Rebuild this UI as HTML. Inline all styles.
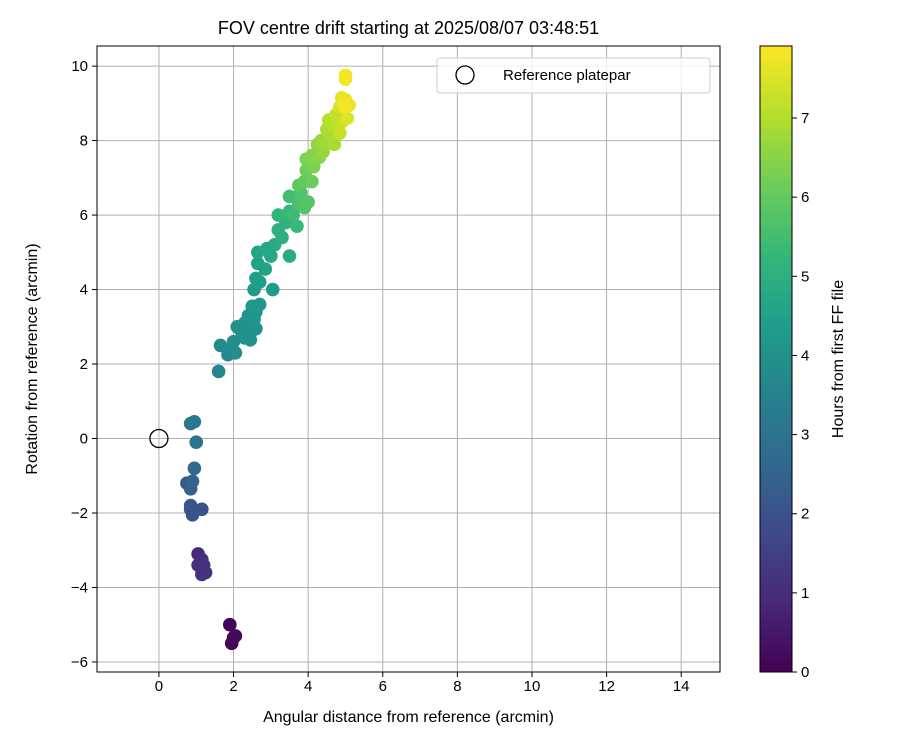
<!DOCTYPE html>
<html><head><meta charset="utf-8"><style>
body{margin:0;background:#fff;font-family:"Liberation Sans",sans-serif}
</style></head><body>
<svg id="c" width="900" height="750" xmlns="http://www.w3.org/2000/svg" font-family="Liberation Sans, sans-serif">
<defs><linearGradient id="vg" x1="0" y1="1" x2="0" y2="0"></linearGradient></defs>
<g id="grid"></g>
<g id="pts"></g>
<g id="axes"></g>
</svg>
<script>
const xTicks=[0,2,4,6,8,10,12,14];
const yTicks=[-6,-4,-2,0,2,4,6,8,10];
const cTicks=[0,1,2,3,4,5,6,7];
const ptX=[1.9,2.0,1.95,2.05,1.05,1.15,1.05,1.2,1.15,1.25,0.75,0.85,0.9,0.95,0.85,0.9,0.85,1.15,0.95,1.0,0.85,0.95,1.6,1.65,1.85,1.9,2.05,2.0,2.1,2.3,2.45,2.5,2.6,2.3,2.4,2.6,2.7,2.5,2.2,2.55,3.05,2.55,2.6,2.7,2.65,2.85,2.65,2.9,3.0,3.1,3.5,3.2,3.3,3.4,3.2,3.5,3.7,3.6,3.5,3.75,3.8,3.9,4.0,3.75,3.9,4.1,3.95,3.95,4.15,4.1,4.3,4.25,4.4,4.35,4.5,4.5,4.6,4.7,4.55,4.7,4.75,4.85,4.9,4.85,4.9,5.0,5.1,5.05,4.95,5.0,5.0,5.0];
const ptY=[-5.0,-5.35,-5.5,-5.3,-3.1,-3.25,-3.4,-3.4,-3.65,-3.6,-1.2,-1.35,-1.15,-0.8,-1.9,-2.05,-1.8,-1.9,-1.95,-0.1,0.4,0.45,1.8,2.5,2.25,2.4,2.3,2.6,3.0,2.7,2.65,2.9,2.95,3.1,3.3,3.4,3.6,3.55,2.9,3.2,4.0,4.0,4.3,4.2,4.7,4.55,5.0,5.1,4.9,5.2,4.9,5.6,5.4,5.8,6.0,6.1,5.7,6.0,6.5,6.3,6.6,6.2,6.35,6.8,6.9,6.9,7.2,7.5,7.3,7.6,7.55,7.9,7.7,8.0,7.95,8.3,8.15,7.9,8.55,8.4,8.7,8.2,8.5,8.9,9.15,9.1,8.95,8.6,9.0,9.75,9.65,8.9];
const ptH=[0.05,0.1,0.15,0.2,0.9,1.0,1.05,1.1,1.2,1.15,2.2,2.4,2.5,2.7,2.0,1.95,2.1,2.05,2.0,3.0,3.1,3.15,3.6,3.7,3.75,3.8,3.85,3.9,3.9,3.95,4.0,4.0,4.0,4.05,4.1,4.15,4.2,4.2,4.0,4.1,4.3,4.3,4.4,4.4,4.5,4.55,4.6,4.7,4.7,4.8,4.9,5.0,5.0,5.1,5.2,5.3,5.3,5.4,5.5,5.6,5.7,5.75,5.8,5.9,6.0,6.1,6.15,6.3,6.35,6.45,6.5,6.6,6.65,6.7,6.8,6.9,6.95,6.9,7.05,7.1,7.2,7.25,7.3,7.45,7.6,7.65,7.7,7.55,7.75,7.85,7.8,7.8];
const L=97,R=720,T=46,B=672;
const xmin=-1.66,xmax=15.04,ymin=-6.27,ymax=10.54,hmax=7.91;
const sx=v=>L+(v-xmin)/(xmax-xmin)*(R-L);
const sy=v=>B-(v-ymin)/(ymax-ymin)*(B-T);
const CL=760,CR=792;
const sc=v=>B-v/hmax*(B-T);
const vir=[[68,1,84],[72,40,120],[62,74,137],[49,104,142],[38,130,142],[31,158,137],[53,183,121],[109,205,89],[180,222,44],[253,231,37]];
function col(h){let t=Math.max(0,Math.min(1,h/hmax))*(vir.length-1);let i=Math.min(Math.floor(t),vir.length-2),f=t-i;const a=vir[i],b=vir[i+1];return `rgb(${a.map((v,k)=>Math.round(v+(b[k]-v)*f)).join(',')})`;}
const NS='http://www.w3.org/2000/svg';
function mk(tag,at,par,txt){const e=document.createElementNS(NS,tag);for(const k in at)e.setAttribute(k,at[k]);if(txt!==undefined)e.textContent=txt;par.appendChild(e);return e;}
const svg=document.getElementById('c'),grid=document.getElementById('grid'),pts=document.getElementById('pts'),axes=document.getElementById('axes');
xTicks.forEach(v=>{const x=sx(v);
 const g=mk('line',{x1:x,x2:x,y1:T,y2:B,stroke:'#b0b0b0','stroke-width':1},grid);
 mk('line',{x1:x,x2:x,y1:B,y2:B+5,stroke:'#000'},axes);
 const t=mk('text',{x:x,y:B+19,'text-anchor':'middle','font-size':15},axes,String(v));});
yTicks.forEach(v=>{const y=sy(v);
 const g=mk('line',{x1:L,x2:R,y1:y,y2:y,stroke:'#b0b0b0','stroke-width':1},grid);
 mk('line',{x1:L-5,x2:L,y1:y,y2:y,stroke:'#000'},axes);
 const t=mk('text',{x:L-9,y:y+5,'text-anchor':'end','font-size':15},axes,v<0?'\u2212'+Math.abs(v):String(v));});
ptX.forEach((v,i)=>{const c=mk('circle',{cx:sx(v),cy:sy(ptY[i]),r:6.8,fill:col(ptH[i])},pts);});
const ref=mk('circle',{cx:sx(0),cy:sy(0),r:9,fill:'none',stroke:'#000','stroke-width':1.3},pts);
mk('rect',{x:L,y:T,width:R-L,height:B-T,fill:'none',stroke:'#000','stroke-width':1},axes);
const tt=mk('text',{x:(L+R)/2,y:34,'text-anchor':'middle','font-size':18},axes,'FOV centre drift starting at 2025/08/07 03:48:51');
const xl=mk('text',{x:(L+R)/2,y:722,'text-anchor':'middle','font-size':16},axes,'Angular distance from reference (arcmin)');
const yl=mk('text',{x:0,y:0,'text-anchor':'middle','font-size':16,transform:`translate(37,${(T+B)/2}) rotate(-90)`},axes,'Rotation from reference (arcmin)');
const lg=mk('g',{},axes);
mk('rect',{x:437,y:58,width:273,height:35,rx:3,fill:'#fff','fill-opacity':0.8,stroke:'#ccc'},lg);
mk('circle',{cx:465,cy:75,r:9,fill:'none',stroke:'#000','stroke-width':1.3},lg);
mk('text',{x:503,y:80,'font-size':15},lg,'Reference platepar');
const grad=document.getElementById('vg');
vir.forEach((c,i)=>mk('stop',{offset:i/(vir.length-1),'stop-color':`rgb(${c.join(',')})`},grad));
const cb=mk('rect',{x:CL,y:T,width:CR-CL,height:B-T,fill:'url(#vg)',stroke:'#000'},axes);
cTicks.forEach(v=>{const y=sc(v);mk('line',{x1:CR,x2:CR+5,y1:y,y2:y,stroke:'#000'},axes);
 const t=mk('text',{x:CR+9,y:y+5,'font-size':15},axes,String(v));});
const cl=mk('text',{x:0,y:0,'text-anchor':'middle','font-size':16,transform:`translate(843,${(T+B)/2}) rotate(-90)`},axes,'Hours from first FF file');
</script>
</body></html>
